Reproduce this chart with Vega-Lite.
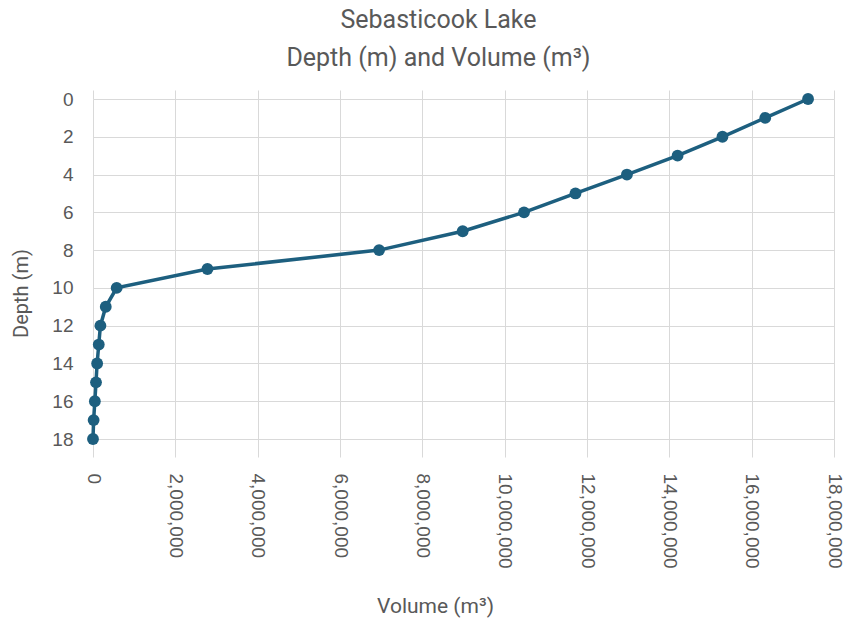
{
  "$schema": "https://vega.github.io/schema/vega-lite/v6.json",
  "autosize": {"type": "none"},
  "width": 741,
  "height": 340,
  "padding": {"left": 93, "top": 99, "right": 10, "bottom": 184},
  "background": "white",
  "title": {
    "text": ["Sebasticook Lake", "Depth (m) and Volume (m³)"],
    "anchor": "middle",
    "frame": "group",
    "dx": -25,
    "offset": 19,
    "font": "Roboto",
    "fontSize": 25,
    "fontWeight": "normal",
    "lineHeight": 38,
    "color": "#595959"
  },
  "config": {
    "view": {"stroke": null},
    "axis": {
      "labelFont": "Liberation Sans",
      "labelFontSize": 19,
      "labelColor": "#595959",
      "labelOverlap": false,
      "titleFont": "Roboto",
      "titleFontSize": 21,
      "titleFontWeight": "normal",
      "titleColor": "#595959",
      "gridColor": "#d9d9d9",
      "gridWidth": 1,
      "domain": false
    }
  },
  "data": {
    "values": [
      {"depth": 0, "volume": 17370000},
      {"depth": 1, "volume": 16330000},
      {"depth": 2, "volume": 15290000},
      {"depth": 3, "volume": 14200000},
      {"depth": 4, "volume": 12970000},
      {"depth": 5, "volume": 11720000},
      {"depth": 6, "volume": 10470000},
      {"depth": 7, "volume": 8980000},
      {"depth": 8, "volume": 6950000},
      {"depth": 9, "volume": 2780000},
      {"depth": 10, "volume": 575000},
      {"depth": 11, "volume": 310000},
      {"depth": 12, "volume": 180000},
      {"depth": 13, "volume": 140000},
      {"depth": 14, "volume": 100000},
      {"depth": 15, "volume": 73000},
      {"depth": 16, "volume": 45000},
      {"depth": 17, "volume": 15000},
      {"depth": 18, "volume": 0}
    ]
  },
  "layer": [
    {
      "mark": {"type": "line", "color": "#1d5f7f", "strokeWidth": 3.5},
      "encoding": {
        "x": {
          "field": "volume",
          "type": "quantitative",
          "scale": {"domain": [0, 18000000], "nice": false},
          "axis": {
            "orient": "bottom",
            "values": [0, 2000000, 4000000, 6000000, 8000000, 10000000, 12000000, 14000000, 16000000, 18000000],
            "format": ",d",
            "labelAngle": 90,
            "labelAlign": "left",
            "labelBaseline": "middle",
            "ticks": true,
            "tickSize": 18,
            "tickColor": "#d9d9d9",
            "labelPadding": 16,
            "title": "Volume (m³)",
            "titleX": 342,
            "titleY": 167,
            "titleAlign": "center",
            "titleBaseline": "middle",
            "grid": true
          }
        },
        "y": {
          "field": "depth",
          "type": "quantitative",
          "scale": {"domain": [0, 18], "reverse": true, "nice": false},
          "axis": {
            "values": [0, 2, 4, 6, 8, 10, 12, 14, 16, 18],
            "labelOverlap": false,
            "ticks": false,
            "labelPadding": 20,
            "title": "Depth (m)",
            "titleFontSize": 20,
            "titleX": -72,
            "titleY": 194,
            "titleAngle": -90,
            "titleAlign": "center",
            "titleBaseline": "middle",
            "grid": true
          }
        },
        "order": {"field": "depth"}
      }
    },
    {
      "mark": {"type": "point", "filled": true, "opacity": 1, "color": "#1d5f7f", "size": 140},
      "encoding": {
        "x": {
          "field": "volume",
          "type": "quantitative",
          "axis": {
            "orient": "top",
            "values": [0, 2000000, 4000000, 6000000, 8000000, 10000000, 12000000, 14000000, 16000000, 18000000],
            "labels": false,
            "ticks": true,
            "tickSize": 9,
            "tickColor": "#d9d9d9",
            "grid": false,
            "title": null
          }
        },
        "y": {
          "field": "depth",
          "type": "quantitative",
          "axis": {
            "values": [0, 2, 4, 6, 8, 10, 12, 14, 16, 18],
            "labelOverlap": false,
            "ticks": false,
            "labelPadding": 20,
            "title": "Depth (m)",
            "titleFontSize": 20,
            "titleX": -72,
            "titleY": 194,
            "titleAngle": -90,
            "titleAlign": "center",
            "titleBaseline": "middle",
            "grid": true
          }
        }
      }
    }
  ],
  "resolve": {"axis": {"x": "independent"}}
}
